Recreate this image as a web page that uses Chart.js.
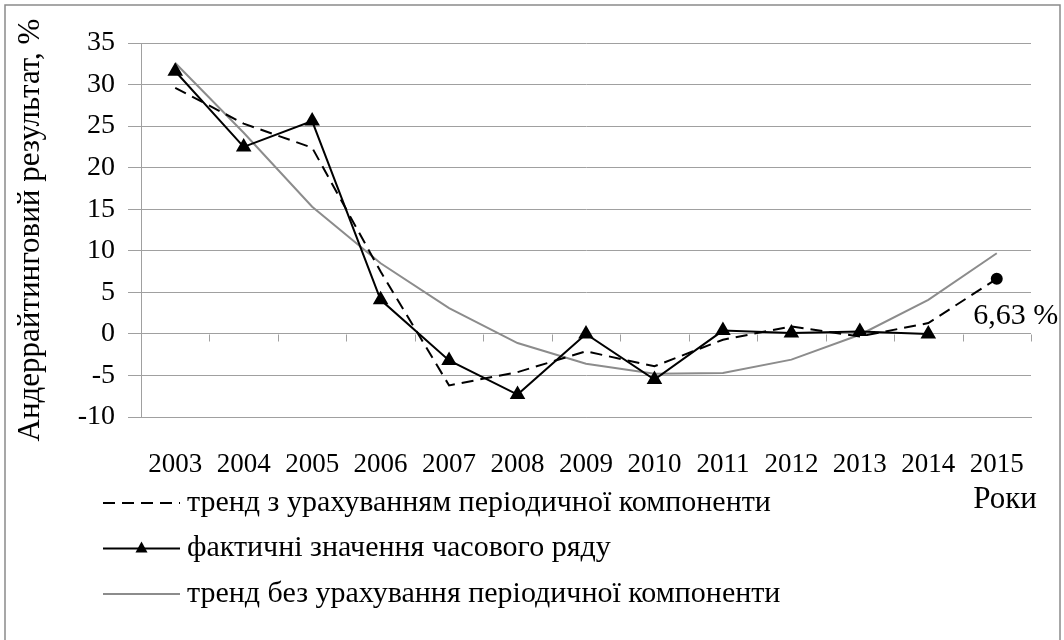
<!DOCTYPE html>
<html>
<head>
<meta charset="utf-8">
<script src="https://cdn.jsdelivr.net/npm/chart.js@4.4.1/dist/chart.umd.min.js"></script>
<style>
  html, body { margin: 0; padding: 0; background: #fff; overflow: hidden; }
  #wrap { width: 1064px; height: 640px; position: relative; }
</style>
</head>
<body>
<div id="wrap"><canvas id="c" width="1064" height="640"></canvas></div>
<script>
var years = ["2003", "2004", "2005", "2006", "2007", "2008", "2009", "2010", "2011", "2012", "2013", "2014", "2015"];
var trendPeriodic = [29.6, 25.3, 22.4, 7.5, -6.2, -4.6, -2.1, -3.9, -0.7, 0.9, -0.3, 1.3, 6.63];
var actual = [31.6, 22.5, 25.6, 4.1, -3.2, -7.3, 0.0, -5.5, 0.4, 0.1, 0.3, 0.0, null];
var trendPlain = [32.6, 24.2, 15.3, 8.5, 3.1, -1.1, -3.6, -4.8, -4.7, -3.1, -0.1, 4.1, 9.7];
var yTicks = [-10, -5, 0, 5, 10, 15, 20, 25, 30, 35];

var seriesNames = [
  "тренд з урахуванням періодичної компоненти",
  "фактичні значення часового ряду",
  "тренд без урахування періодичної компоненти"
];
var forecastLabel = "6,63 %";
var xTitle = "Роки";
var yTitle = "Андеррайтинговий результат, %";

var FONT = "'Liberation Serif', 'Times New Roman', serif";
var gridClr = "#a0a0a0";

// radius only on the last (forecast) point of the dashed trend
var dashRadius = trendPeriodic.map(function(v, i) { return i == trendPeriodic.length - 1 ? 5 : 0; });

var extras = {
  id: "extras",
  beforeDraw: function(chart) {
    var ctx = chart.ctx;
    ctx.save();
    ctx.fillStyle = "#fff";
    ctx.fillRect(0, 0, chart.width, chart.height);
    ctx.strokeStyle = "#8a8a8a";
    ctx.lineWidth = 1.5;
    ctx.strokeRect(5, 5, chart.width - 9, chart.height + 40);
    ctx.restore();
  },
  beforeDatasetsDraw: function(chart) {
    // small tick marks under the zero line between the years
    var ctx = chart.ctx, xs = chart.scales.x, ys = chart.scales.y;
    var y0 = Math.round(ys.getPixelForValue(0)) + 0.5;
    var step = xs.getPixelForValue(1) - xs.getPixelForValue(0);
    ctx.save();
    ctx.strokeStyle = gridClr;
    ctx.lineWidth = 1;
    for (var i = 0; i <= years.length; i++) {
      var x = Math.round(xs.getPixelForValue(i) - step / 2) + 0.5;
      ctx.beginPath();
      ctx.moveTo(x, y0);
      ctx.lineTo(x, y0 + 7);
      ctx.stroke();
    }
    ctx.restore();
  },
  afterDraw: function(chart) {
    var ctx = chart.ctx, area = chart.chartArea;
    ctx.save();
    ctx.font = "30px " + FONT;
    ctx.fillStyle = "#000";
    ctx.textBaseline = "middle";

    // forecast value label
    var meta = chart.getDatasetMeta(0);
    var last = meta.data[meta.data.length - 1];
    ctx.textAlign = "center";
    ctx.fillText(forecastLabel, last.x + 19, last.y + 37);

    // axis name for years
    ctx.font = "31px " + FONT;
    ctx.fillText(xTitle, area.right - 26, area.bottom + 83);

    // legend
    ctx.font = "30px " + FONT;
    ctx.textAlign = "left";
    var lx0 = 103, lx1 = 180;
    for (var i = 0; i < chart.data.datasets.length; i++) {
      var ds = chart.data.datasets[i];
      var y = area.bottom + 86 + i * 45.5;
      ctx.save();
      ctx.strokeStyle = ds.borderColor;
      ctx.lineWidth = ds.borderWidth;
      ctx.setLineDash(ds.borderDash || []);
      ctx.beginPath();
      ctx.moveTo(lx0, y);
      ctx.lineTo(lx1, y);
      ctx.stroke();
      ctx.restore();
      if (ds.pointStyle == "triangle") {
        var cx = (lx0 + lx1) / 2;
        ctx.beginPath();
        ctx.moveTo(cx, y - 7);
        ctx.lineTo(cx + 6, y + 4);
        ctx.lineTo(cx - 6, y + 4);
        ctx.closePath();
        ctx.fill();
      }
      ctx.fillText(ds.label, lx1 + 7, y);
    }
    ctx.restore();
  }
};

new Chart(document.getElementById("c"), {
  type: "line",
  data: {
    labels: years,
    datasets: [
      {
        label: seriesNames[0],
        data: trendPeriodic,
        borderColor: "#000",
        backgroundColor: "#000",
        borderWidth: 2,
        borderDash: [12, 7],
        pointRadius: dashRadius,
        pointStyle: "circle",
        tension: 0
      },
      {
        label: seriesNames[1],
        data: actual,
        borderColor: "#000",
        backgroundColor: "#000",
        borderWidth: 2,
        pointStyle: "triangle",
        pointRadius: 7,
        tension: 0
      },
      {
        label: seriesNames[2],
        data: trendPlain,
        borderColor: "#8c8c8c",
        backgroundColor: "#8c8c8c",
        borderWidth: 2,
        pointRadius: 0,
        tension: 0
      }
    ]
  },
  options: {
    responsive: false,
    animation: false,
    devicePixelRatio: 1,
    layout: { padding: { top: 43, right: 33, left: 0, bottom: 0 } },
    plugins: {
      legend: { display: false },
      tooltip: { enabled: false }
    },
    scales: {
      x: {
        offset: true,
        grid: { display: false },
        border: { display: true, color: gridClr },
        ticks: { color: "#000", font: { family: FONT, size: 27 }, padding: 24, maxRotation: 0, autoSkip: false },
        afterFit: function(s) { s.height = 223; }
      },
      y: {
        min: -10,
        max: 35,
        afterBuildTicks: function(s) { s.ticks = yTicks.map(function(v) { return { value: v }; }); },
        grid: { color: gridClr, lineWidth: 1, tickLength: 13, drawTicks: true },
        border: { display: true, color: gridClr },
        ticks: { color: "#000", font: { family: FONT, size: 28 }, padding: 13 },
        title: { display: true, text: yTitle, color: "#000", font: { family: FONT, size: 31 }, padding: { top: 12, bottom: 0 } },
        afterFit: function(s) { s.width = 141; }
      }
    }
  },
  plugins: [extras]
});
</script>
</body>
</html>
